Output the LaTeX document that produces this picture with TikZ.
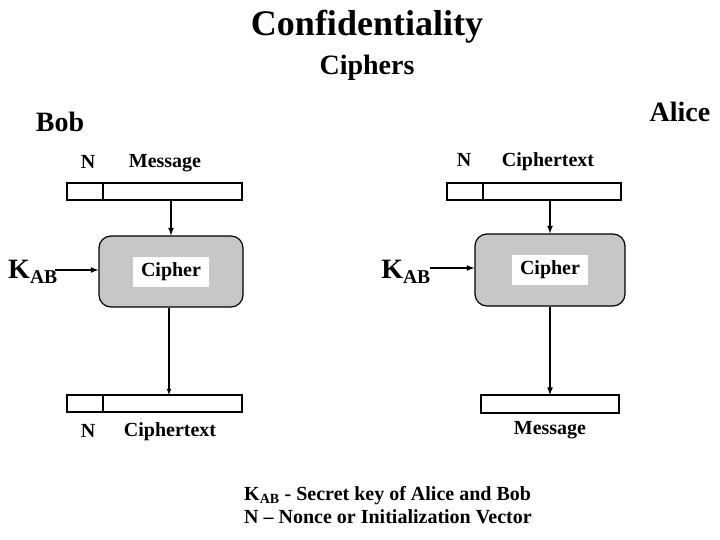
\documentclass[tikz,border=0pt]{standalone}
\usepackage{fontspec}
\setmainfont{Liberation Serif}
\begin{document}
\begin{tikzpicture}[x=1pt,y=-1pt,
  lbl/.style={font=\bfseries\fontsize{20}{23}\selectfont,inner sep=0},
  fld/.style={draw,line width=1.2pt},
  ciph/.style={draw,line width=1.2pt,rounded corners=12pt,fill=black!22},
  ctext/.style={fill=white,font=\bfseries\fontsize{20}{23}\selectfont,inner sep=3pt,minimum width=76pt,minimum height=30pt},
  key/.style={font=\bfseries\fontsize{28}{30}\selectfont,inner sep=0},
  arr/.style={-latex,line width=1.6pt}]
\useasboundingbox (0,0) rectangle (720,540);
\node[font=\bfseries\fontsize{36}{38}\selectfont] (t1) at (367,27) {Confidentiality};
\node[font=\bfseries\fontsize{28}{30}\selectfont] (t2) at (367,68) {Ciphers};
\node[font=\bfseries\fontsize{28}{30}\selectfont] (bob) at (60,122) {Bob};
\node[font=\bfseries\fontsize{28}{30}\selectfont] (alice) at (680,112) {Alice};
% left
\node[lbl] (ln1) at (88,162) {N};
\node[lbl] (lm) at (165,163) {Message};
\draw[fld] (67,183) rectangle (242,200); \draw[fld] (103,183) -- (103,200);
\coordinate (lt) at (171,200);
\node[ciph,minimum width=144pt,minimum height=71pt] (lc) at (171,271.5) {};
\node[ctext] at (lc) {Cipher};
\node[key] (lk) at (33,272) {K\textsubscript{AB}};
\coordinate (lka) at (55,270);
\draw[fld] (67,395) rectangle (242,412); \draw[fld] (103,395) -- (103,412);
\coordinate (lb) at (169,395);
\node[lbl] (ln2) at (88,431) {N};
\node[lbl] (lct) at (170,432) {Ciphertext};
\draw[arr] (lt) -- (lt|-lc.north);
\draw[arr] (lka) -- (lka-|lc.west);
\draw[arr,line width=1.1pt] (lb|-lc.south) -- (lb);
% right
\node[lbl] (rn1) at (464,160) {N};
\node[lbl] (rct) at (548,162) {Ciphertext};
\draw[fld] (447,183) rectangle (621,200); \draw[fld] (483,183) -- (483,200);
\coordinate (rt) at (550,200);
\node[ciph,minimum width=150pt,minimum height=72pt] (rc) at (550,270) {};
\node[ctext] at (rc) {Cipher};
\node[key] (rk) at (406,272) {K\textsubscript{AB}};
\coordinate (rka) at (430,268);
\draw[fld] (481,395) rectangle (619,413);
\coordinate (rb) at (550,395);
\node[lbl] (rm) at (550,430) {Message};
\draw[arr] (rt) -- (rt|-rc.north);
\draw[arr] (rka) -- (rka-|rc.west);
\draw[arr] (rb|-rc.south) -- (rb);
% legend
\node[lbl,align=left,anchor=west] (leg) at (244,505) {K\textsubscript{AB} - Secret key of Alice and Bob\\N -- Nonce or Initialization Vector};
\end{tikzpicture}
\end{document}
